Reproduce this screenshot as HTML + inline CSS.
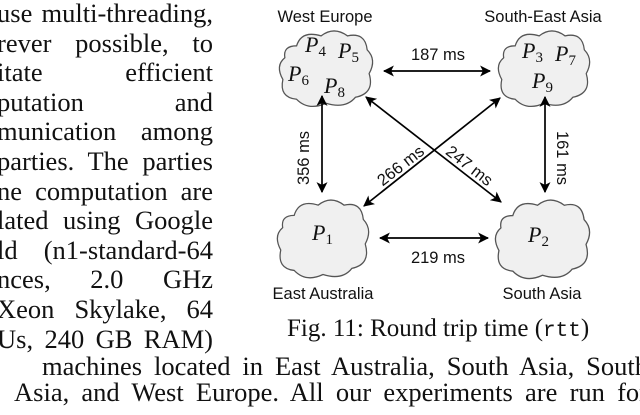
<!DOCTYPE html>
<html><head><meta charset="utf-8"><style>
html,body{margin:0;padding:0;background:#fff;width:640px;height:415px;overflow:hidden;position:relative}
.t{position:absolute;font-family:"Liberation Serif",serif;font-size:26.5px;color:#111;white-space:nowrap;line-height:30px}
.j{left:-3px;width:216px;text-align:justify;text-align-last:justify}
</style></head><body>
<div class="t j" style="top:-2px">use multi-threading,</div>
<div class="t j" style="top:27.6px">rever possible, to</div>
<div class="t j" style="top:57.2px">itate efficient</div>
<div class="t j" style="top:86.8px">putation and</div>
<div class="t j" style="top:116.4px">munication among</div>
<div class="t j" style="top:146px">parties. The parties</div>
<div class="t j" style="top:175.6px">ne computation are</div>
<div class="t j" style="top:205.2px">lated using Google</div>
<div class="t j" style="top:234.8px">ld (n1-standard-64</div>
<div class="t j" style="top:264.4px">nces, 2.0 GHz</div>
<div class="t j" style="top:294px">Xeon Skylake, 64</div>
<div class="t j" style="top:323.6px">Us, 240 GB RAM)</div>
<div class="t" style="top:314px;left:287px;font-size:25px">Fig. 11: Round trip time (<span style="font-family:'Liberation Mono',monospace;font-size:21px">rtt</span>)</div>
<div class="t" style="top:351px;left:42px;width:606px;text-align:justify;text-align-last:justify">machines located in East Australia, South Asia, South</div>
<div class="t" style="top:377px;left:14px;width:634px;text-align:justify;text-align-last:justify">Asia, and West Europe. All our experiments are run for</div>
<svg width="640" height="415" style="position:absolute;left:0;top:0" font-family="Liberation Sans,sans-serif">
<defs>
<path id="c" d="M20,18 Q25,2 45,8 Q58,-2 72,8 Q90,4 92,22 Q102,32 94,46 Q100,66 80,70 Q70,82 50,76 Q32,84 20,72 Q2,70 6,52 Q-2,38 8,30 Q6,18 20,18 Z" fill="#f0f0f0" stroke="#555" stroke-width="1.3"/>
<marker id="a" viewBox="0 0 10 10" refX="9" refY="5" markerWidth="11" markerHeight="11" orient="auto-start-reverse" markerUnits="userSpaceOnUse"><path d="M0,0 L10,5 L0,10 L2.5,5Z" fill="#000"/></marker>
</defs>
<use href="#c" transform="translate(277,28) scale(0.98,0.99)"/>
<use href="#c" transform="translate(496,28) scale(0.96,0.99)"/>
<use href="#c" transform="translate(275,197) scale(0.96,1.02)"/>
<use href="#c" transform="translate(493,197) scale(0.99,1.03)"/>
<g font-size="16.5" fill="#111" text-anchor="middle">
<text x="325" y="22">West Europe</text>
<text x="543" y="22">South-East Asia</text>
<text x="323" y="299">East Australia</text>
<text x="542" y="299">South Asia</text>
<text x="438" y="60">187 ms</text>
<text x="438" y="263">219 ms</text>
<text transform="translate(309,158) rotate(-90)" >356 ms</text>
<text transform="translate(557,158) rotate(90)">161 ms</text>
<text transform="translate(404,170) rotate(-38)">266 ms</text>
<text transform="translate(466,170) rotate(38)">247 ms</text>
</g>
<g stroke="#000" stroke-width="1.7" marker-start="url(#a)" marker-end="url(#a)">
<line x1="384" y1="71" x2="490" y2="71"/>
<line x1="380" y1="238" x2="488" y2="238"/>
<line x1="322" y1="96" x2="322" y2="192"/>
<line x1="545" y1="97" x2="545" y2="192"/>
<line x1="366" y1="97" x2="501" y2="202"/>
<line x1="500" y1="98" x2="364" y2="206"/>
</g>
<g font-family="Liberation Serif,serif" font-style="italic" font-size="22" fill="#111">
<text x="305" y="52">P<tspan font-size="15" font-style="normal" dy="4">4</tspan></text>
<text x="338" y="58">P<tspan font-size="15" font-style="normal" dy="4">5</tspan></text>
<text x="288" y="81">P<tspan font-size="15" font-style="normal" dy="4">6</tspan></text>
<text x="324" y="93">P<tspan font-size="15" font-style="normal" dy="4">8</tspan></text>
<text x="522" y="58">P<tspan font-size="15" font-style="normal" dy="4">3</tspan></text>
<text x="555" y="61">P<tspan font-size="15" font-style="normal" dy="4">7</tspan></text>
<text x="532" y="88">P<tspan font-size="15" font-style="normal" dy="4">9</tspan></text>
<text x="312" y="240">P<tspan font-size="15" font-style="normal" dy="4">1</tspan></text>
<text x="528" y="242">P<tspan font-size="15" font-style="normal" dy="4">2</tspan></text>
</g>
</svg>
</body></html>
